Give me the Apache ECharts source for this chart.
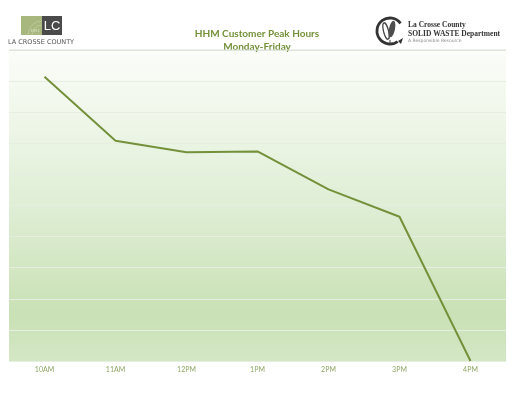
<!DOCTYPE html>
<html><head><meta charset="utf-8">
<script src="https://cdn.jsdelivr.net/npm/echarts@6/dist/echarts.min.js"></script>
<style>html,body{margin:0;padding:0;background:#fff}#c{width:514px;height:394px}</style>
</head><body><div id="c"></div>
<script>
var categories = ['10AM','11AM','12PM','1PM','2PM','3PM','4PM'];
var customers = [91.4, 70.8, 67.1, 67.4, 55.2, 46.4, 0];
var titleLines = ['HHM Customer Peak Hours', 'Monday-Friday'];

var chart = echarts.init(document.getElementById('c'), null, {renderer:'canvas'});
var green = '#74913a';
chart.setOption({
  animation: false,
  backgroundColor: '#ffffff',
  title: {
    text: titleLines.join('\n'),
    left: 'center', top: 22,
    textStyle: {color: green, fontFamily: 'Lato', fontWeight: 'bold', fontSize: 10, lineHeight: 13}
  },
  grid: {
    left: 9, right: 8, top: 50, bottom: 33, show: true, borderWidth: 0,
    backgroundColor: {type:'linear', x:0, y:0, x2:0, y2:1, colorStops:[
      {offset:0, color:'#fbfdf9'}, {offset:0.5, color:'#dfeed5'}, {offset:0.85, color:'#c9e1b5'}, {offset:1, color:'#d3e7c5'}
    ]}
  },
  xAxis: {
    type: 'category', data: categories, boundaryGap: true,
    axisLine: {show:false}, axisTick: {show:false},
    axisLabel: {color: '#8fa663', fontSize: 7, fontFamily: 'Lato', margin: 5}
  },
  yAxis: {
    type: 'value', min: 0, max: 100, interval: 10,
    axisLabel: {show:false}, axisLine:{show:false}, axisTick:{show:false},
    splitLine: {lineStyle: {color: '#e6eee1', width: 1}}
  },
  series: [{
    type: 'line', data: customers, symbol: 'none',
    lineStyle: {color: green, width: 2}
  }],
  graphic: [
    {type:'line', shape:{x1:9, y1:50, x2:506, y2:50}, style:{stroke:'#d9ddd6', lineWidth:1}, z:10},
    // La Crosse County logo
    {type:'rect', shape:{x:21, y:16, width:21, height:19}, style:{fill:'#a7b77d'}},
    {type:'arc', shape:{cx:42, cy:35, r:14, startAngle:Math.PI, endAngle:Math.PI*1.5}, style:{stroke:'#c3cfa2', lineWidth:0.7, fill:null}},
    {type:'arc', shape:{cx:42, cy:35, r:10, startAngle:Math.PI, endAngle:Math.PI*1.5}, style:{stroke:'#c3cfa2', lineWidth:0.7, fill:null}},
    {type:'text', style:{x:35, y:33, text:'1851', fill:'#d8e0c2', fontSize:4, fontFamily:'DejaVu Sans', align:'center', verticalAlign:'bottom'}},
    {type:'rect', shape:{x:42, y:16, width:20, height:19}, style:{fill:'#4a4a4a'}},
    {type:'text', style:{x:52, y:26, text:'LC', fill:'#ffffff', fontSize:13, fontFamily:'Liberation Sans', align:'center', verticalAlign:'middle'}},
    {type:'text', style:{x:8, y:42, text:'LA CROSSE COUNTY', fill:'#555555', fontSize:6.5, fontFamily:'DejaVu Sans', verticalAlign:'middle'}},
    // Solid waste logo
    {type:'arc', shape:{cx:390, cy:31, r:13, startAngle:Math.PI*0.3, endAngle:Math.PI*1.8}, style:{stroke:'#333333', lineWidth:2.8, fill:null}},
    {type:'polygon', shape:{points:[[398,41],[403,38],[401,44]]}, style:{fill:'#333333'}},
    {type:'ellipse', shape:{cx:386, cy:31, rx:2.5, ry:8.5}, rotation:0.25, originX:386, originY:31, style:{fill:'none', stroke:'#444', lineWidth:1.3}},
    {type:'ellipse', shape:{cx:392, cy:29, rx:3, ry:8.5}, rotation:-0.2, originX:392, originY:29, style:{fill:'#4d4d4d'}},
    {type:'line', shape:{x1:390, y1:40, x2:390, y2:44}, style:{stroke:'#444', lineWidth:1}},
    {type:'text', style:{x:408, y:25, text:'La Crosse County', fill:'#333333', fontSize:7.5, fontWeight:'bold', fontFamily:'Liberation Serif', verticalAlign:'middle'}},
    {type:'text', style:{x:408, y:34, text:'SOLID WASTE Department', fill:'#333333', fontSize:7.5, fontWeight:'bold', fontFamily:'Liberation Serif', verticalAlign:'middle'}},
    {type:'text', style:{x:408, y:41, text:'A Responsible Resource', fill:'#8a8a8a', fontSize:4.5, fontFamily:'DejaVu Sans', verticalAlign:'middle'}}
  ]
});
</script></body></html>
